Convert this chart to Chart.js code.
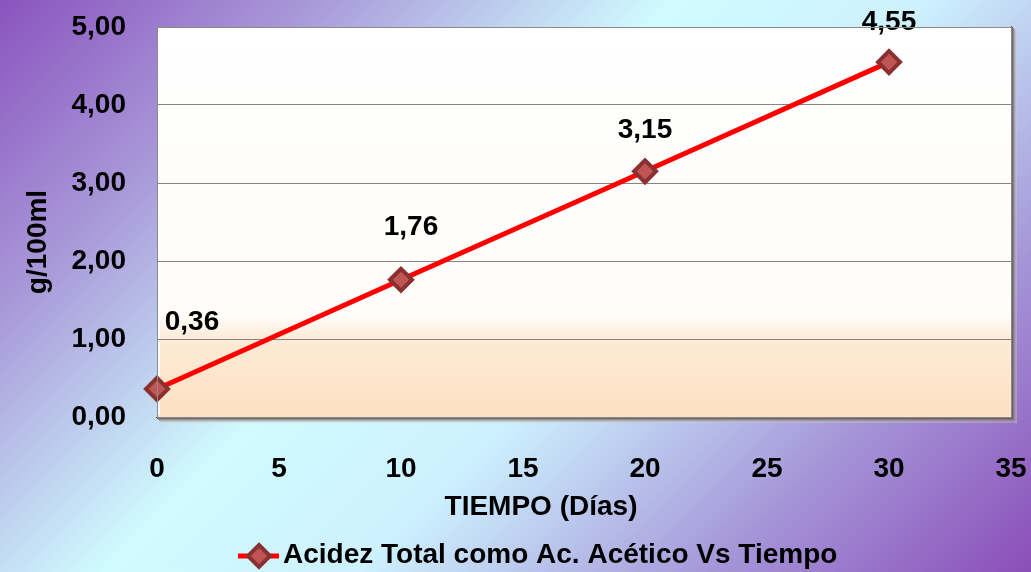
<!DOCTYPE html>
<html>
<head>
<meta charset="utf-8">
<script src="https://cdn.jsdelivr.net/npm/chart.js@4.4.1/dist/chart.umd.min.js"></script>
<style>
  html, body { margin: 0; padding: 0; background: #fff; }
  #wrap { width: 1031px; height: 572px; position: relative; }
</style>
</head>
<body>
<div id="wrap"><canvas id="chart" width="1031" height="572"></canvas></div>
<script>
// Acidez total (g/100ml) medida a lo largo del tiempo
const dias = [0, 10, 20, 30];
const acidez = [0.36, 1.76, 3.15, 4.55];
const xTicks = [0, 5, 10, 15, 20, 25, 30, 35];
const yTicks = [0, 1, 2, 3, 4, 5];
const serieNombre = 'Acidez Total como Ac. Acético Vs Tiempo';
const tituloX = 'TIEMPO (Días)';
const tituloY = 'g/100ml';

// desplazamiento de cada etiqueta de valor respecto a su punto (px)
const labelOffsets = [[35, -67], [10, -52], [0, -41], [0, -40]];

const FONT = "'Liberation Sans', Arial, sans-serif";
const fmt = v => v.toFixed(2).replace('.', ',');

const fondo = {
  id: 'fondo',
  beforeDraw(chart) {
    const { ctx, width, height, chartArea: a } = chart;
    ctx.save();
    const g = ctx.createLinearGradient(0, 0, 802, 802);
    g.addColorStop(0, '#8a54be');
    g.addColorStop(0.2, '#a99ad9');
    g.addColorStop(0.42, '#d0fbff');
    g.addColorStop(0.58, '#cdf1fe');
    g.addColorStop(0.8, '#a596d8');
    g.addColorStop(1, '#8a4eb8');
    ctx.fillStyle = g;
    ctx.fillRect(0, 0, width, height);

    // sombra biselada a la derecha y abajo del área de trazado
    for (let i = 0; i < 6; i++) {
      const c = Math.round(70 + i * 28);
      ctx.fillStyle = `rgba(${c},${c - 8},${c - 14},${1 - i * 0.12})`;
      ctx.fillRect(a.right + i, a.top + i - 1, 1, a.bottom - a.top + 2);
      ctx.fillRect(a.left + i - 1, a.bottom + i, a.right - a.left + 2, 1);
    }

    const p = ctx.createLinearGradient(0, a.top, 0, a.bottom);
    p.addColorStop(0, '#ffffff');
    p.addColorStop(0.74, '#fffdf9');
    p.addColorStop(0.8, '#fdebd6');
    p.addColorStop(1, '#fde0c2');
    ctx.fillStyle = p;
    ctx.fillRect(a.left, a.top, a.right - a.left, a.bottom - a.top);

    // borde interior claro
    ctx.strokeStyle = 'rgba(255,255,255,0.9)';
    ctx.lineWidth = 2;
    ctx.beginPath();
    ctx.moveTo(a.left + 2, a.bottom - 2);
    ctx.lineTo(a.left + 2, a.top + 2);
    ctx.lineTo(a.right - 2, a.top + 2);
    ctx.stroke();
    ctx.restore();
  },
  afterDraw(chart) {
    const { ctx, chartArea: a } = chart;
    ctx.save();
    ctx.strokeStyle = '#8a8a8a';
    ctx.lineWidth = 1;
    ctx.strokeRect(a.left + 0.5, a.top + 0.5, a.right - a.left, a.bottom - a.top);
    ctx.restore();
  }
};

const textos = {
  id: 'textos',
  afterDatasetsDraw(chart) {
    const { ctx } = chart;
    const meta = chart.getDatasetMeta(0);
    ctx.save();
    ctx.fillStyle = '#000';
    ctx.font = `bold 28px ${FONT}`;
    ctx.textAlign = 'center';
    ctx.textBaseline = 'middle';
    meta.data.forEach((pt, i) => {
      const [dx, dy] = labelOffsets[i];
      ctx.fillText(fmt(acidez[i]), pt.x + dx, pt.y + dy);
    });
    ctx.restore();
  },
  afterDraw(chart) {
    const { ctx } = chart;
    ctx.save();
    ctx.fillStyle = '#000';
    ctx.font = `bold 28px ${FONT}`;
    ctx.textAlign = 'center';
    ctx.textBaseline = 'middle';
    ctx.fillText(tituloX, 541, 507);

    ctx.save();
    ctx.translate(38, 242);
    ctx.rotate(-Math.PI / 2);
    ctx.fillText(tituloY, 0, 0);
    ctx.restore();

    // leyenda
    const ly = 556;
    ctx.strokeStyle = '#ff0000';
    ctx.lineWidth = 5;
    ctx.beginPath();
    ctx.moveTo(238, ly);
    ctx.lineTo(279, ly);
    ctx.stroke();
    ctx.beginPath();
    ctx.moveTo(259, ly - 11);
    ctx.lineTo(270, ly);
    ctx.lineTo(259, ly + 11);
    ctx.lineTo(248, ly);
    ctx.closePath();
    ctx.fillStyle = '#c05555';
    ctx.fill();
    ctx.strokeStyle = '#8a3030';
    ctx.lineWidth = 4;
    ctx.stroke();
    ctx.fillStyle = '#000';
    ctx.textAlign = 'left';
    ctx.fillText(serieNombre, 283, ly - 1);
    ctx.restore();
  }
};

function sinRelleno(s) {
  s.paddingLeft = 0; s.paddingRight = 0; s.paddingTop = 0; s.paddingBottom = 0;
}

new Chart(document.getElementById('chart'), {
  type: 'line',
  data: {
    datasets: [{
      label: serieNombre,
      data: dias.map((d, i) => ({ x: d, y: acidez[i] })),
      borderColor: '#ff0000',
      borderWidth: 5,
      pointStyle: 'rectRot',
      pointRadius: 11,
      pointBackgroundColor: '#c05555',
      pointBorderColor: '#8a3030',
      pointBorderWidth: 4,
      tension: 0,
      clip: false
    }]
  },
  options: {
    responsive: false,
    animation: false,
    events: [],
    layout: { padding: { left: 0, right: 20, top: 27, bottom: 0 } },
    plugins: { legend: { display: false }, tooltip: { enabled: false } },
    scales: {
      x: {
        type: 'linear',
        min: 0, max: 35,
        afterBuildTicks(s) { s.ticks = xTicks.map(v => ({ value: v })); },
        afterFit(s) { s.height = 155; sinRelleno(s); },
        grid: { display: false, drawTicks: false },
        border: { display: false },
        ticks: {
          padding: 35,
          color: '#000',
          font: { family: FONT, size: 28, weight: 'bold' },
          maxRotation: 0,
          callback: v => String(v)
        }
      },
      y: {
        min: 0, max: 5,
        afterBuildTicks(s) { s.ticks = yTicks.map(v => ({ value: v })); },
        afterFit(s) { s.width = 157; sinRelleno(s); },
        grid: { color: '#858585', lineWidth: 1, drawTicks: false },
        border: { display: false },
        ticks: {
          padding: 31,
          color: '#000',
          font: { family: FONT, size: 28, weight: 'bold' },
          callback: v => fmt(v)
        }
      }
    }
  },
  plugins: [fondo, textos]
});
</script>
</body>
</html>
